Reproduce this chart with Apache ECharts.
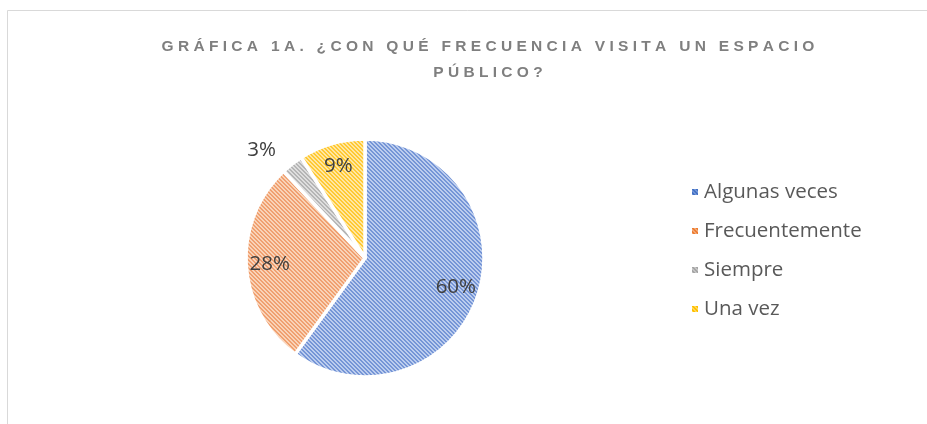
<!DOCTYPE html>
<html>
<head>
<meta charset="utf-8">
<script src="https://cdn.jsdelivr.net/npm/echarts@6/dist/echarts.min.js"></script>
<style>html,body{margin:0;padding:0;background:#fff}#c{width:927px;height:424px}</style>
</head>
<body>
<div id="c"></div>
<script>
const categories = ['Algunas veces', 'Frecuentemente', 'Siempre', 'Una vez'];
const values = [60, 28, 3, 9];
const titleLines = ['GRÁFICA 1A. ¿CON QUÉ FRECUENCIA VISITA UN ESPACIO', 'PÚBLICO?'];

const palettes = [
  ['#bccdee', '#7595d6'],
  ['#f9d3b8', '#f0a070'],
  ['#dedede', '#b5b5b5'],
  ['#ffe7a3', '#ffc933']
];
const legendPalettes = [
  ['#6f93d6', '#4472c4'],
  ['#f2a674', '#ed7d31'],
  ['#c4c4c4', '#a5a5a5'],
  ['#ffd75a', '#ffc000']
];
function pattern(bg, fg) {
  const c = document.createElement('canvas');
  c.width = 4; c.height = 4;
  const ctx = c.getContext('2d');
  ctx.fillStyle = bg; ctx.fillRect(0, 0, 4, 4);
  ctx.fillStyle = fg;
  for (let y = 0; y < 4; y++) {
    for (let x = 0; x < 4; x++) {
      const d = ((x - y) % 4 + 4) % 4;
      if (d === 0 || d === 1) ctx.fillRect(x, y, 1, 1);
    }
  }
  return { image: c, repeat: 'repeat' };
}
function spaced(s) {
  return s.split(' ').map(w => w.split('').join(' ')).join('   ');
}
const FONT = '"Open Sans", "Liberation Sans", sans-serif';

const chart = echarts.init(document.getElementById('c'), null, { renderer: 'canvas' });
const mainData = categories.map((n, i) => ({
  name: n, value: values[i],
  itemStyle: { color: pattern(palettes[i][0], palettes[i][1]) },
  label: n === 'Siempre'
    ? { show: true, position: 'outside' }
    : { show: false },
  labelLine: { show: false, length: 18, length2: 0 }
}));
const labelData = categories.map((n, i) => ({
  name: n, value: values[i],
  label: { show: n !== 'Siempre' }
}));

chart.setOption({
  animation: false,
  backgroundColor: '#ffffff',
  graphic: [
    { type: 'rect', shape: { x: 7.5, y: 10.5, width: 940, height: 430 }, style: { fill: 'none', stroke: '#d9d9d9', lineWidth: 1 }, silent: true },
    { type: 'text', x: 488, y: 47, style: { text: spaced(titleLines[0]), align: 'center', verticalAlign: 'middle', font: 'bold 15.5px "Liberation Sans", Arial, sans-serif', fill: '#7f7f7f' } },
    { type: 'text', x: 488, y: 73, style: { text: spaced(titleLines[1]), align: 'center', verticalAlign: 'middle', font: 'bold 15.5px "Liberation Sans", Arial, sans-serif', fill: '#7f7f7f' } }
  ],
  legend: {
    orient: 'vertical',
    left: 685,
    top: 175,
    data: categories.map((n, i) => ({ name: n, itemStyle: { color: pattern(legendPalettes[i][0], legendPalettes[i][1]) } })),
    icon: 'rect',
    itemWidth: 8,
    itemHeight: 8,
    itemGap: 15,
    textStyle: { fontSize: 20.5, color: '#595959', fontFamily: FONT, lineHeight: 24 }
  },
  series: [
    {
      type: 'pie',
      center: [365, 258],
      radius: 119,
      startAngle: 90,
      clockwise: true,
      silent: true,
      itemStyle: { borderColor: '#ffffff', borderWidth: 3.5 },
      label: { fontSize: 20.5, color: '#404040', fontFamily: FONT, formatter: '{d}%' },
      data: mainData
    },
    {
      type: 'pie',
      center: [365, 258],
      radius: [66, 119],
      startAngle: 90,
      clockwise: true,
      silent: true,
      legendHoverLink: false,
      itemStyle: { color: 'rgba(0,0,0,0)' },
      label: { position: 'inside', fontSize: 20.5, color: '#404040', fontFamily: FONT, formatter: '{d}%' },
      labelLine: { show: false },
      data: labelData
    }
  ]
});
</script>
</body>
</html>
